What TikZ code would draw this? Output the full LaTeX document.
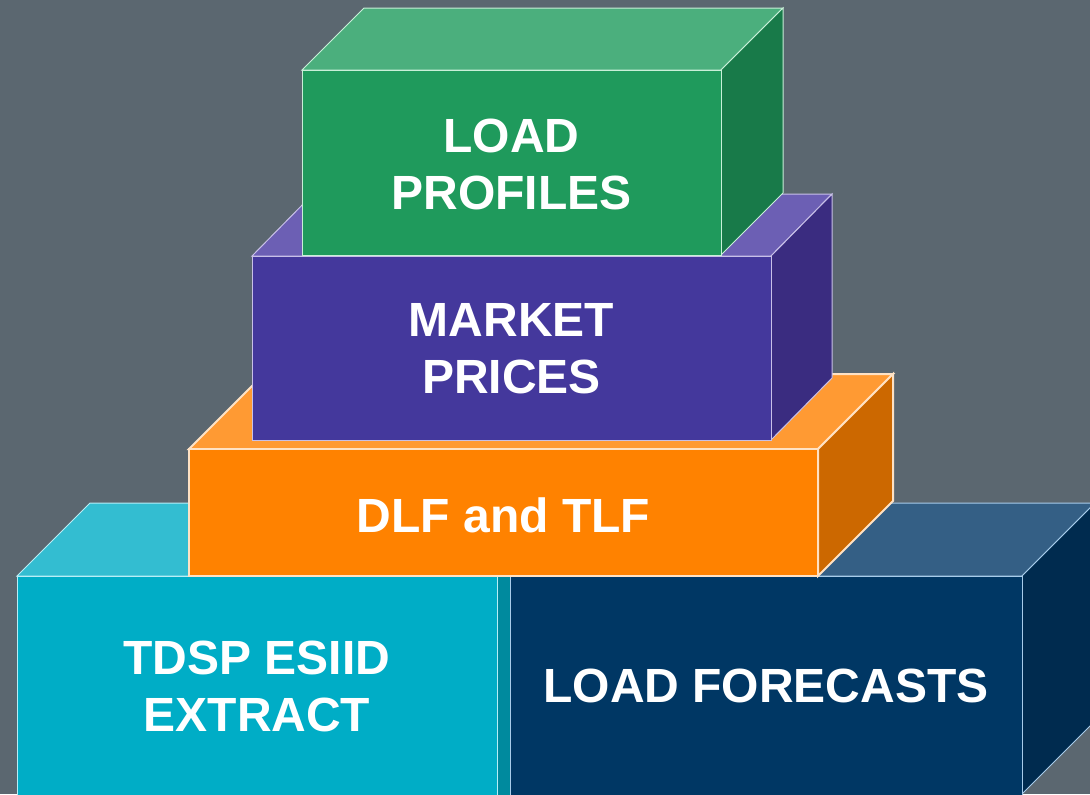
\documentclass[tikz,border=0pt]{standalone}
\usepackage{fontspec}
\setmainfont{Liberation Sans}

\definecolor{bg}{HTML}{5B6770}
\definecolor{greenfront}{HTML}{1F9A5C}
\definecolor{greentop}{HTML}{4BAF7D}
\definecolor{greenside}{HTML}{187A49}
\definecolor{greenedge}{HTML}{C8F0D8}
\definecolor{purplefront}{HTML}{44389C}
\definecolor{purpletop}{HTML}{6C5FB4}
\definecolor{purpleside}{HTML}{3A2C80}
\definecolor{purpleedge}{HTML}{C8C0E8}
\definecolor{orangefront}{HTML}{FF8200}
\definecolor{orangetop}{HTML}{FF9A33}
\definecolor{orangeside}{HTML}{CC6800}
\definecolor{orangeedge}{HTML}{FFE2C4}
\definecolor{tealfront}{HTML}{00ADC6}
\definecolor{tealtop}{HTML}{33BDD1}
\definecolor{tealside}{HTML}{008A9E}
\definecolor{tealedge}{HTML}{B8EEF6}
\definecolor{navyfront}{HTML}{003764}
\definecolor{navytop}{HTML}{345F85}
\definecolor{navyside}{HTML}{002B4F}
\definecolor{navyedge}{HTML}{A8CCEA}

\tikzset{
	face/.style={line width=0.5pt, line join=miter},
	blocklabel/.style={text=white, align=center, font=\bfseries\fontsize{24}{28.5}\selectfont}
}

\begin{document}
\begin{tikzpicture}[x=0.5pt, y=-0.5pt]
		% Background, blocks and labels:
		\fill[bg] (0, 0) rectangle (1090, 794);
		\clip (0, 0) rectangle (1090, 794);
		\filldraw[face, fill=tealtop, draw=tealedge] (17, 576) -- (90, 503) -- (570, 503) -- (497, 576) -- cycle;
		\filldraw[face, fill=tealside, draw=tealedge] (497, 576) -- (570, 503) -- (570, 800) -- (497, 800) -- cycle;
		\filldraw[face, fill=tealfront, draw=tealedge] (17, 576) rectangle (497, 800);
		\filldraw[face, fill=navytop, draw=navyedge] (510, 576) -- (583, 503) -- (1095, 503) -- (1022, 576) -- cycle;
		\filldraw[face, fill=navyside, draw=navyedge] (1022, 576) -- (1095, 503) -- (1095, 721) -- (1022, 794) -- cycle;
		\filldraw[face, fill=navyfront, draw=navyedge] (510, 576) rectangle (1022, 800);
		\filldraw[face, line width=1pt, fill=orangetop, draw=orangeedge] (189, 449) -- (264, 374) -- (893, 374) -- (818, 449) -- cycle;
		\filldraw[face, line width=1pt, fill=orangeside, draw=orangeedge] (818, 449) -- (893, 374) -- (893, 501) -- (818, 576) -- cycle;
		\filldraw[face, line width=1pt, fill=orangefront, draw=orangeedge] (189, 449) rectangle (818, 576);
		\filldraw[face, fill=purpletop, draw=purpleedge] (252, 256) -- (313, 194) -- (832, 194) -- (771, 256) -- cycle;
		\filldraw[face, fill=purpleside, draw=purpleedge] (771, 256) -- (832, 194) -- (832, 378) -- (771, 440) -- cycle;
		\filldraw[face, fill=purplefront, draw=purpleedge] (252, 256) rectangle (771, 440);
		\filldraw[face, fill=greentop, draw=greenedge] (302, 70) -- (364, 8) -- (783, 8) -- (721, 70) -- cycle;
		\filldraw[face, fill=greenside, draw=greenedge] (721, 70) -- (783, 8) -- (783, 193) -- (721, 255) -- cycle;
		\filldraw[face, fill=greenfront, draw=greenedge] (302, 70) rectangle (721, 255);
		\node[blocklabel] (esiid) at (257, 686){TDSP ESIID\\EXTRACT};
		\node[blocklabel] (forecasts) at (766, 686){LOAD FORECASTS};
		\node[blocklabel] (lf) at (503.5, 515){DLF and TLF};
		\node[blocklabel] (prices) at (511.5, 349){MARKET\\PRICES};
		\node[blocklabel] (profiles) at (511.5, 164){LOAD\\PROFILES};
	\end{tikzpicture}
\end{document}
